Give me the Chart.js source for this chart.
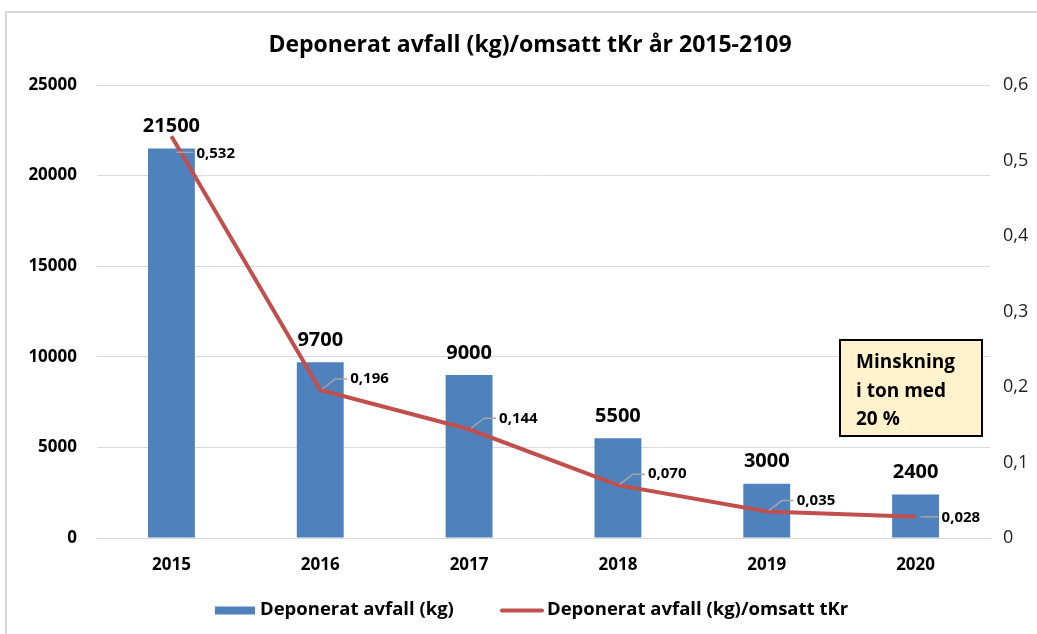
<!DOCTYPE html>
<html>
<head>
<meta charset="utf-8">
<script src="https://cdn.jsdelivr.net/npm/chart.js@4/dist/chart.umd.min.js"></script>
<style>
html,body{margin:0;padding:0;background:#fff;}
#wrap{width:1037px;height:634px;position:relative;}
</style>
</head>
<body>
<div id="wrap"><canvas id="c" width="1037" height="634"></canvas></div>
<script>
const years = ['2015','2016','2017','2018','2019','2020'];
const wasteKg = [21500, 9700, 9000, 5500, 3000, 2400];
const wastePerTkr = [0.532, 0.196, 0.144, 0.070, 0.035, 0.028];
const leftTicks = [0, 5000, 10000, 15000, 20000, 25000];
const rightTicks = [0, 0.1, 0.2, 0.3, 0.4, 0.5, 0.6];
const titleText = 'Deponerat avfall (kg)/omsatt tKr år 2015-2109';
const seriesNames = ['Deponerat avfall (kg)', 'Deponerat avfall (kg)/omsatt tKr'];
const noteLines = ['Minskning', 'i ton med', '20 %'];

const FONT = "'Open Sans', sans-serif";
// label placement style for line value labels (dx, dy of text left/center, leader type)
const lineLabelStyle = [
  {dx: 25, dy: 17, lead: 'h'},
  {dx: 30, dy: -11, lead: 'd'},
  {dx: 30, dy: -11, lead: 'd'},
  {dx: 30, dy: -11, lead: 'd'},
  {dx: 30, dy: -11, lead: 'd'},
  {dx: 26, dy: 1, lead: 'h'}
];
const fmtComma = v => v.toFixed(3).replace('.', ',');

const framePlugin = {
  id: 'frame',
  beforeDraw(chart) {
    const ctx = chart.ctx;
    ctx.save();
    ctx.fillStyle = '#fff';
    ctx.fillRect(0, 0, chart.width, chart.height);
    ctx.strokeStyle = '#d9d9d9';
    ctx.lineWidth = 2;
    ctx.strokeRect(6, 12, chart.width + 10, chart.height + 10);
    ctx.fillStyle = '#000';
    ctx.font = 'bold 23px ' + FONT;
    ctx.textAlign = 'center';
    ctx.textBaseline = 'middle';
    ctx.fillText(titleText, 530, 45);
    ctx.restore();
  }
};

const legendPlugin = {
  id: 'customLegend',
  afterDraw(chart) {
    const ctx = chart.ctx;
    const ds = chart.data.datasets;
    ctx.save();
    ctx.font = 'bold 18.5px ' + FONT;
    ctx.textAlign = 'left';
    ctx.textBaseline = 'middle';
    const y = 610;
    // bar item
    ctx.fillStyle = ds[0].backgroundColor;
    ctx.fillRect(215, y - 3.5, 40, 8);
    ctx.fillStyle = '#000';
    ctx.fillText(ds[0].label, 260, y);
    // line item
    ctx.strokeStyle = ds[1].borderColor;
    ctx.lineWidth = 4;
    ctx.lineCap = 'round';
    ctx.beginPath();
    ctx.moveTo(502, y + 0.5);
    ctx.lineTo(542, y + 0.5);
    ctx.stroke();
    ctx.fillStyle = '#000';
    ctx.fillText(ds[1].label, 547, y);
    ctx.restore();
  }
};

const labelsPlugin = {
  id: 'valueLabels',
  afterDatasetsDraw(chart) {
    const ctx = chart.ctx;
    ctx.save();
    const barMeta = chart.getDatasetMeta(0);
    ctx.font = 'bold 20px ' + FONT;
    ctx.fillStyle = '#000';
    ctx.textAlign = 'center';
    ctx.textBaseline = 'middle';
    barMeta.data.forEach((el, i) => {
      ctx.fillText(String(wasteKg[i]), el.x, el.y - 22);
    });
    const lineMeta = chart.getDatasetMeta(1);
    ctx.font = 'bold 15px ' + FONT;
    ctx.textAlign = 'left';
    lineMeta.data.forEach((pt, i) => {
      const s = lineLabelStyle[i];
      const tx = pt.x + s.dx, ty = pt.y + s.dy;
      ctx.strokeStyle = '#a6a6a6';
      ctx.lineWidth = 1.5;
      ctx.beginPath();
      if (s.lead === 'd') {
        ctx.moveTo(pt.x + 2, pt.y - 1);
        ctx.lineTo(pt.x + 15, ty);
        ctx.lineTo(tx - 3, ty);
      } else {
        ctx.moveTo(pt.x + 5, ty - 1);
        ctx.lineTo(tx - 3, ty - 1);
      }
      ctx.stroke();
      ctx.fillStyle = '#000';
      ctx.fillText(fmtComma(wastePerTkr[i]), tx, ty);
    });
    ctx.restore();
  },
  afterDraw(chart) {
    const ctx = chart.ctx;
    ctx.save();
    ctx.fillStyle = '#FFF2CC';
    ctx.fillRect(840, 340, 142, 96);
    ctx.strokeStyle = '#000';
    ctx.lineWidth = 2;
    ctx.strokeRect(840, 340, 142, 96);
    ctx.fillStyle = '#000';
    ctx.font = 'bold 19px ' + FONT;
    ctx.textAlign = 'left';
    ctx.textBaseline = 'middle';
    noteLines.forEach((t, i) => ctx.fillText(t, 856, 363 + i * 28.5));
    ctx.restore();
  }
};

new Chart(document.getElementById('c'), {
  data: {
    labels: years,
    datasets: [
      {
        type: 'bar',
        label: seriesNames[0],
        data: wasteKg,
        backgroundColor: '#4F81BD',
        yAxisID: 'y',
        order: 2,
        barPercentage: 0.315,
        categoryPercentage: 1
      },
      {
        type: 'line',
        label: seriesNames[1],
        data: wastePerTkr,
        borderColor: '#C0504D',
        backgroundColor: '#C0504D',
        borderWidth: 4,
        pointRadius: 0,
        tension: 0,
        yAxisID: 'y1',
        order: 1
      }
    ]
  },
  options: {
    responsive: false,
    animation: false,
    devicePixelRatio: 1,
    layout: {padding: {left: 0, right: 0, top: 85, bottom: 0}},
    plugins: {
      title: {display: false},
      legend: {display: false},
      tooltip: {enabled: false}
    },
    scales: {
      x: {
        grid: {display: false, drawTicks: false},
        border: {display: true, color: '#d9d9d9'},
        ticks: {color: '#000', font: {family: FONT, size: 17, weight: 'bold'}, padding: 17},
        afterFit(s) { s.height = 96; }
      },
      y: {
        position: 'left',
        min: 0, max: 25000,
        afterBuildTicks(s) { s.ticks = leftTicks.map(v => ({value: v})); },
        grid: {color: '#d9d9d9', drawTicks: false},
        border: {display: false},
        ticks: {color: '#000', font: {family: FONT, size: 17, weight: 'bold'}, padding: 20, callback: v => String(v)},
        afterFit(s) { s.width = 97; }
      },
      y1: {
        position: 'right',
        min: 0, max: 0.6,
        afterBuildTicks(s) { s.ticks = rightTicks.map(v => ({value: v})); },
        grid: {display: false, drawTicks: false},
        border: {display: false},
        ticks: {color: '#222', font: {family: FONT, size: 18}, padding: 13, callback: v => v === 0 ? '0' : String(Math.round(v * 10) / 10).replace('.', ',')},
        afterFit(s) { s.width = 47; }
      }
    }
  },
  plugins: [framePlugin, labelsPlugin, legendPlugin]
});
</script>
</body>
</html>
